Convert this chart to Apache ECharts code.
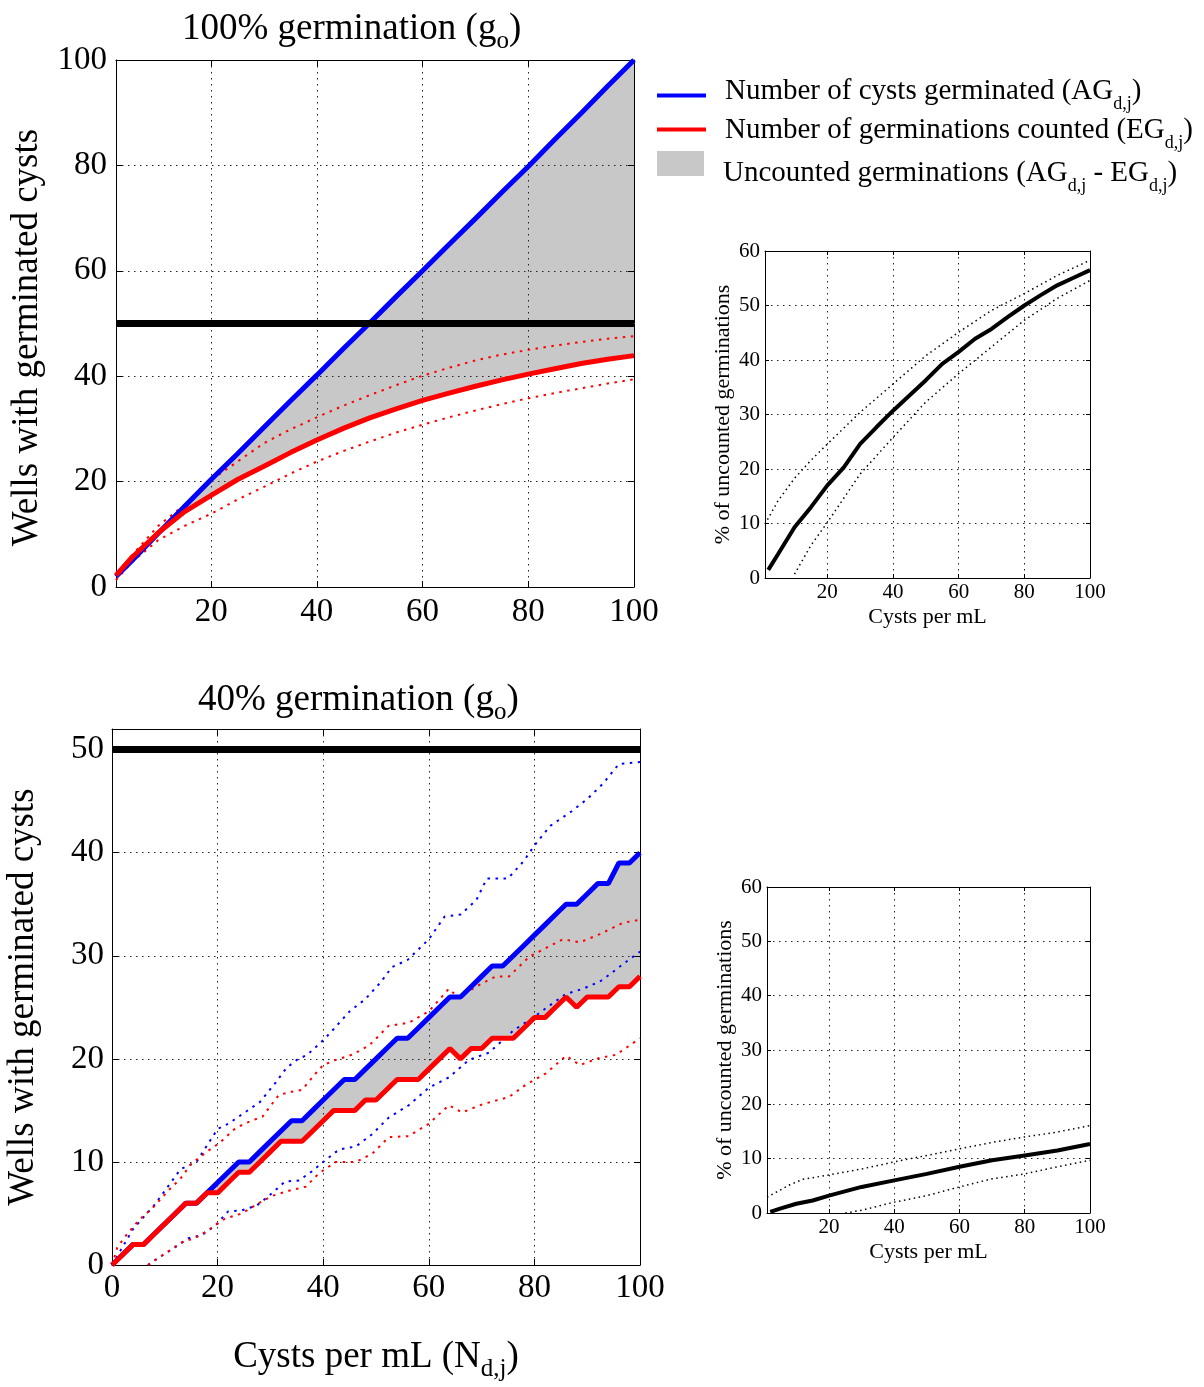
<!DOCTYPE html>
<html><head><meta charset="utf-8">
<script src="https://cdn.jsdelivr.net/npm/echarts@6/dist/echarts.min.js"></script>
<style>html,body{margin:0;padding:0;background:#fff}#c{width:1204px;height:1387px}</style>
</head><body><div id="c"></div>
<script>
// ---------- DATA ----------
const threshold = 50;
// Top-left: 100% germination
const topX        = [2,5,10,15,20,25,30,35,40,45,50,55,60,65,70,75,80,85,90,95,100];
const topAG       = [2,5,10.2,15.3,20.4,25.3,30.3,35.3,40.2,45.2,50.1,55.1,60,65,69.9,74.9,79.8,84.9,89.9,95,100];
const topEG       = [2.2,5.6,10.3,14.3,17.4,20.4,22.9,25.5,27.9,30.1,32.1,33.8,35.4,36.8,38.1,39.3,40.4,41.4,42.4,43.2,43.9];
const topEGUpper  = [2.3,6,11.6,15.6,20.3,23.8,27.3,29.9,32.2,34.4,36.4,38.3,40.1,41.6,43,44.1,45,45.8,46.5,47.1,47.6];
const topEGLower  = [1.3,4.7,8.9,11.6,13.9,16.6,19,21.5,23.8,25.8,27.6,29.3,30.8,32.2,33.5,34.7,35.8,36.8,37.7,38.6,39.4];

// Bottom-left: 40% germination
const botX  = [0,2,4,6,8,10,12,14,16,18,20,22,24,26,28,30,32,34,36,38,40,42,44,46,48,50,52,54,56,58,60,62,64,66,68,70,72,74,76,78,80,82,84,86,88,90,92,94,96,98,100];
const botEG = [0,1,2,2,3,4,5,6,6,7,7,8,9,9,10,11,12,12,12,13,14,15,15,15,16,16,17,18,18,18,19,20,21,20,21,21,22,22,22,23,24,24,25,26,25,26,26,26,27,27,28];
const botAG = [0,1,2,2,3,4,5,6,6,7,8,9,10,10,11,12,13,14,14,15,16,17,18,18,19,20,21,22,22,23,24,25,26,26,27,28,29,29,30,31,32,33,34,35,35,36,37,37,39,39,40];
const botAGUpper = [[0,0],[4,3.5],[8,5.8],[11,7.9],[13,9.3],[16,10],[20,13.2],[22,13.7],[26,15.1],[28,15.8],[31,17.7],[33,19.1],[35,19.9],[37,20.4],[40,21.8],[42,22.9],[45,24.6],[48,25.8],[51,27.5],[53,28.9],[56,29.6],[60,31.6],[63,33.8],[66,34],[69,35.4],[71,37.5],[75,37.5],[78,39.2],[80,40.7],[83,42.6],[87,44],[90,45.2],[93,46.7],[96,48.6],[100,48.8]];
const botAGLower = [[6.8,0],[8.8,0.7],[11.9,1.7],[14.5,2.6],[17,2.9],[19.5,3.8],[22,5.2],[24.6,5.3],[27.5,5.8],[29.7,6.7],[32.8,8.1],[35.4,8.2],[37.9,9.1],[40,10],[43,11.2],[46.2,11.5],[49.3,12.7],[52.4,14.3],[56.2,15.5],[60,17.2],[63.8,18.2],[67.6,19.9],[71.4,20.6],[75.9,22.7],[80,24.1],[83.5,25.4],[86,26.3],[89.2,26.8],[92.4,27.5],[94.3,28.2],[96.8,29.2],[100,30.4]];
const botEGUpper = [[0,0],[1,1.7],[2.4,2.7],[5,4.3],[8,5.7],[11,7.4],[13,8.4],[15,9.8],[18,11],[20.5,11.9],[23,13.1],[25,13.7],[28.5,14.4],[31.6,16.5],[34,16.8],[36,17],[38.6,18.6],[40,19.4],[42.4,19.9],[45.5,20.4],[48.7,21.3],[52.4,23.2],[56.2,23.5],[60,24.6],[63.8,26.8],[65.7,25.9],[68.9,27],[72.7,28],[75.2,28],[79,29.9],[81.6,30.6],[85.4,31.6],[88.6,31.3],[92.4,32.1],[96.8,33.2],[100,33.5]];
const botEGLower = [[6.8,0],[9.4,0.9],[13.2,2.2],[15.7,2.6],[18.3,3.4],[21.4,4.5],[24.6,5],[27.8,6],[30.3,6.7],[33.5,7.2],[36.7,7.6],[39.2,8.9],[42.4,10],[46.2,10],[49.3,10.8],[52.4,12.4],[56.2,12.5],[60,13.7],[63.8,15.5],[66.3,14.8],[70.2,15.6],[75.2,16.3],[78.4,17.5],[82.2,18.6],[86,20.3],[88.6,19.4],[92.4,20.1],[95.5,20.4],[100,22]];

// Inset 1 (% uncounted, 100% germination)
const in1X     = [2,5,10,15,20,25,30,35,40,45,50,55,60,65,70,75,80,85,90,95,100];
const in1Pct   = [1.5,4.4,9.3,13,17,20.3,24.6,27.7,30.7,33.5,36.3,39.3,41.5,43.9,45.7,47.9,50,51.9,53.7,55.1,56.5];
const in1Upper = [[1,9.9],[5,14.2],[10,18.3],[15,21.6],[20,24.6],[30,30.4],[40,35.6],[50,40.8],[60,45.1],[70,49.1],[80,52.2],[90,55.5],[100,58.3]];
const in1Lower = [[10,0.7],[15,6],[20,10.2],[30,19.1],[40,25.8],[50,32.3],[60,37.5],[70,42.4],[80,47.3],[90,51.3],[100,54.6]];

// Inset 2 (% uncounted, 40% germination)
const in2X     = [2,5,10,15,20,30,40,50,60,70,80,90,100];
const in2Pct   = [0.2,0.8,1.7,2.3,3.2,4.8,6,7.2,8.5,9.7,10.6,11.5,12.7];
const in2Upper = [[1,2.9],[8,5.2],[12,6.2],[20,7],[30,8.1],[40,9.4],[50,10.6],[60,11.8],[70,13],[80,14],[90,14.9],[100,16.1]];
const in2Lower = [[25,0],[30,0.5],[40,2],[50,3.2],[60,4.8],[70,6.3],[80,7.2],[90,8.5],[100,9.7]];

// Tick values
const ticksX20   = [20,40,60,80,100];
const ticksX0    = [0,20,40,60,80,100];
const ticksY100  = [0,20,40,60,80,100];
const ticksY50   = [0,10,20,30,40,50];
const ticksY60   = [0,10,20,30,40,50,60];

// ---------- STYLE ----------
const FONT = '"Liberation Serif","Times New Roman",serif';
const BLUE = '#0000ff', RED = '#ff0000', GRAY = '#c8c8c8';
const richBig = {
  t: {fontFamily: FONT, fontSize: 37, fontWeight: 'normal', lineHeight: 50, verticalAlign: 'middle', color: '#000'},
  s: {fontFamily: FONT, fontSize: 25, fontWeight: 'normal', lineHeight: 12, verticalAlign: 'bottom', color: '#000'}
};
const richLeg = {
  t: {fontFamily: FONT, fontSize: 29, fontWeight: 'normal', lineHeight: 44, verticalAlign: 'middle', color: '#000'},
  s: {fontFamily: FONT, fontSize: 18, fontWeight: 'normal', lineHeight: 14, verticalAlign: 'bottom', color: '#000'}
};
const legendText = {
  AG: '{t|Number of cysts germinated (AG}{s|d,j}{t|)}',
  EG: '{t|Number of germinations counted (EG}{s|d,j}{t|)}',
  UN: '{t|Uncounted germinations (AG}{s|d,j}{t| - EG}{s|d,j}{t|)}'
};

const pairs = (xs, ys) => xs.map((x, i) => [x, ys[i]]);

function axis(o) {
  return {
    type: 'value', gridIndex: o.gi, position: o.pos, min: o.min, max: o.max, z: 2,
    axisLine: {show: true, onZero: false, lineStyle: {color: '#000', width: 1}},
    axisTick: {show: true, inside: true, length: o.tickLen, customValues: o.ticks, lineStyle: {color: '#000', width: 1}},
    axisLabel: o.labels ? {show: true, customValues: o.ticks, color: '#000', fontFamily: FONT, fontSize: o.fs, margin: o.margin} : {show: false},
    splitLine: o.labels ? {show: true, lineStyle: {color: '#222', width: 1, type: [1.5, 4.5]}} : {show: false},
    name: o.name || '', nameLocation: 'middle', nameGap: o.nameGap || 0, nameRotate: o.nameRotate,
    nameTextStyle: o.nameStyle || {}
  };
}
function line(name, gi, data, color, width, dash, z) {
  return {type: 'line', name, xAxisIndex: 2*gi, yAxisIndex: 2*gi, data, symbol: 'none', showSymbol: false,
    lineStyle: {color, width, type: dash || 'solid'}, itemStyle: {color}, z, silent: true, clip: true};
}
// grey band between the AG (upper) and EG (lower) curves, positioned through the axes' scales
function band(gi, xs, hi, lo) {
  return {
    type: 'custom', name: 'UN', xAxisIndex: 2*gi, yAxisIndex: 2*gi, z: 1, silent: true, clip: true,
    itemStyle: {color: GRAY},
    data: xs.map((x, i) => [x, hi[i], lo[i]]),
    encode: {x: 0, y: [1, 2]},
    renderItem: (params, api) => {
      if (params.dataIndex !== 0) return null;
      const upper = xs.map((x, i) => api.coord([x, hi[i]]));
      const lower = xs.map((x, i) => api.coord([x, lo[i]])).reverse();
      return {type: 'polygon', shape: {points: upper.concat(lower)}, style: {fill: GRAY, stroke: null}};
    }
  };
}
const bigName = {fontFamily: FONT, fontSize: 37, color: '#000'};
const smallName = {fontFamily: FONT, fontSize: 22, color: '#000'};
const DOT_MAIN = [2.5, 5.5];
const DOT_INSET = [1.5, 3.5];

const xAxes = [
  axis({gi:0,pos:'bottom',min:2,max:100,ticks:ticksX20,labels:true,fs:33,margin:9,tickLen:6}),
  axis({gi:0,pos:'top',min:2,max:100,ticks:ticksX20,tickLen:6}),
  axis({gi:1,pos:'bottom',min:1,max:100,ticks:ticksX20,labels:true,fs:21,margin:4,tickLen:4,name:'Cysts per mL',nameGap:28,nameStyle:smallName}),
  axis({gi:1,pos:'top',min:1,max:100,ticks:ticksX20,tickLen:4}),
  axis({gi:2,pos:'bottom',min:0,max:100,ticks:ticksX0,labels:true,fs:33,margin:7,tickLen:6,name:'{t|Cysts per mL (N}{s|d,j}{t|)}',nameGap:67,nameStyle:{rich:richBig}}),
  axis({gi:2,pos:'top',min:0,max:100,ticks:ticksX0,tickLen:6}),
  axis({gi:3,pos:'bottom',min:1,max:100,ticks:ticksX20,labels:true,fs:21,margin:4,tickLen:4,name:'Cysts per mL',nameGap:28,nameStyle:smallName}),
  axis({gi:3,pos:'top',min:1,max:100,ticks:ticksX20,tickLen:4})
];
const yAxes = [
  axis({gi:0,pos:'left',min:0,max:100,ticks:ticksY100,labels:true,fs:33,margin:9,tickLen:6,name:'Wells with germinated cysts',nameGap:70,nameRotate:90,nameStyle:Object.assign({padding:[0,28,0,0]},bigName)}),
  axis({gi:0,pos:'right',min:0,max:100,ticks:ticksY100,tickLen:6}),
  axis({gi:1,pos:'left',min:0,max:60,ticks:ticksY60,labels:true,fs:21,margin:5,tickLen:4,name:'% of uncounted germinations',nameGap:31,nameRotate:90,nameStyle:smallName}),
  axis({gi:1,pos:'right',min:0,max:60,ticks:ticksY60,tickLen:4}),
  axis({gi:2,pos:'left',min:0,max:52,ticks:ticksY50,labels:true,fs:33,margin:8,tickLen:6,name:'Wells with germinated cysts',nameGap:70,nameRotate:90,nameStyle:bigName}),
  axis({gi:2,pos:'right',min:0,max:52,ticks:ticksY50,tickLen:6}),
  axis({gi:3,pos:'left',min:0,max:60,ticks:ticksY60,labels:true,fs:21,margin:5,tickLen:4,name:'% of uncounted germinations',nameGap:31,nameRotate:90,nameStyle:smallName}),
  axis({gi:3,pos:'right',min:0,max:60,ticks:ticksY60,tickLen:4})
];

const thresholdLine = {symbol: 'none', silent: true, label: {show: false}, lineStyle: {color: '#000', width: 7, type: 'solid'}, data: [{yAxis: threshold}]};

const series = [
  band(0, topX, topAG, topEG),
  line('EGu0', 0, pairs(topX, topEGUpper), RED, 2, DOT_MAIN, 3),
  line('EGl0', 0, pairs(topX, topEGLower), RED, 2, DOT_MAIN, 3),
  line('AG', 0, pairs(topX, topAG), BLUE, 5, null, 4),
  Object.assign(line('EG', 0, pairs(topX, topEG), RED, 5, null, 5), {markLine: thresholdLine}),

  line('in1u', 1, in1Upper, '#000', 1.5, DOT_INSET, 3),
  line('in1l', 1, in1Lower, '#000', 1.5, DOT_INSET, 3),
  line('in1', 1, pairs(in1X, in1Pct), '#000', 4, null, 4),

  band(2, botX, botAG, botEG),
  line('AGu2', 2, botAGUpper, BLUE, 2, DOT_MAIN, 3),
  line('AGl2', 2, botAGLower, BLUE, 2, DOT_MAIN, 3),
  line('EGu2', 2, botEGUpper, RED, 2, DOT_MAIN, 3),
  line('EGl2', 2, botEGLower, RED, 2, DOT_MAIN, 3),
  line('AG', 2, pairs(botX, botAG), BLUE, 5, null, 4),
  Object.assign(line('EG', 2, pairs(botX, botEG), RED, 5, null, 5), {markLine: thresholdLine}),

  line('in2u', 3, in2Upper, '#000', 1.5, DOT_INSET, 3),
  line('in2l', 3, in2Lower, '#000', 1.5, DOT_INSET, 3),
  line('in2', 3, pairs(in2X, in2Pct), '#000', 4, null, 4)
];

function legend(name, color, top, w, h, pad) {
  return {
    data: [{name, icon: 'rect', itemStyle: {color, borderWidth: 0}, lineStyle: {color, width: 0}}],
    left: 657, top, itemWidth: w, itemHeight: h, padding: 0, selectedMode: false,
    formatter: n => legendText[n],
    textStyle: {rich: richLeg, padding: pad}
  };
}

const option = {
  animation: false,
  backgroundColor: '#fff',
  title: [
    {text: '{t|100% germination (g}{s|o}{t|)}', left: 182, top: 4, padding: 0, textStyle: {fontWeight: 'normal', rich: richBig}},
    {text: '{t|40% germination (g}{s|o}{t|)}', left: 198, top: 675, padding: 0, textStyle: {fontWeight: 'normal', rich: richBig}}
  ],
  legend: [
    legend('AG', BLUE, 77, 49, 4, [0, 0, 8, 14]),
    legend('EG', RED, 116, 49, 4, [2, 0, 0, 14]),
    legend('UN', GRAY, 151, 47, 25, [20, 0, 0, 14])
  ],
  grid: [
    {left:116, top:60, width:518, height:527, containLabel:false, outerBoundsMode:'none'},
    {left:765, top:251, width:325, height:327, containLabel:false, outerBoundsMode:'none'},
    {left:112, top:729, width:528, height:536, containLabel:false, outerBoundsMode:'none'},
    {left:767, top:887, width:323, height:326, containLabel:false, outerBoundsMode:'none'}
  ],
  xAxis: xAxes,
  yAxis: yAxes,
  series
};
const chart = echarts.init(document.getElementById('c'), null, {renderer: 'canvas'});
chart.setOption(option);
</script>
</body></html>
